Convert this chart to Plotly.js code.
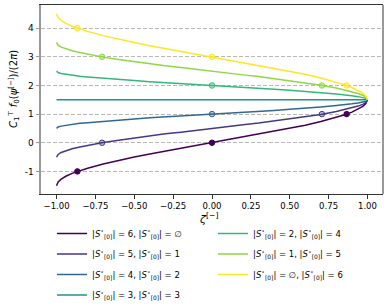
<!DOCTYPE html>
<html>
<head>
<meta charset="utf-8">
<script src="https://cdn.plot.ly/plotly-3.0.1.min.js"></script>
<style>html,body{margin:0;padding:0;background:#fff;}#chart{width:389px;height:307px;}</style>
</head>
<body>
<div id="chart"></div>
<script>
// zeta samples (x values)
const zeta = [-1, -0.99, -0.97, -0.94, -0.9, -0.85, -0.8, -0.7, -0.6, -0.5, -0.4, -0.3, -0.2, -0.1, 0,
  0.1, 0.2, 0.3, 0.4, 0.5, 0.6, 0.7, 0.8, 0.85, 0.9, 0.94, 0.97, 0.99, 1];

// curve values, keyed by |S*|
const y6 = [-1.50, -1.37, -1.27, -1.17, -1.07, -0.97, -0.89, -0.74, -0.61, -0.50, -0.39, -0.29, -0.19, -0.10, 0.00,
  0.10, 0.19, 0.29, 0.39, 0.50, 0.61, 0.74, 0.89, 0.97, 1.07, 1.17, 1.27, 1.37, 1.50];
const y5 = [-0.50, -0.41, -0.34, -0.28, -0.21, -0.15, -0.09, 0.01, 0.09, 0.17, 0.24, 0.31, 0.37, 0.44, 0.50,
  0.56, 0.63, 0.69, 0.76, 0.83, 0.91, 0.99, 1.09, 1.15, 1.21, 1.28, 1.34, 1.41, 1.50];
const y4 = [0.50, 0.55, 0.58, 0.61, 0.64, 0.68, 0.70, 0.75, 0.80, 0.83, 0.87, 0.90, 0.94, 0.97, 1.00,
  1.03, 1.06, 1.10, 1.13, 1.17, 1.20, 1.25, 1.30, 1.32, 1.36, 1.39, 1.42, 1.45, 1.50];
const y3 = [1.5, 1.5, 1.5, 1.5, 1.5, 1.5, 1.5, 1.5, 1.5, 1.5, 1.5, 1.5, 1.5, 1.5, 1.5,
  1.5, 1.5, 1.5, 1.5, 1.5, 1.5, 1.5, 1.5, 1.5, 1.5, 1.5, 1.5, 1.5, 1.5];
const y2 = [2.50, 2.45, 2.42, 2.39, 2.36, 2.32, 2.30, 2.25, 2.20, 2.17, 2.13, 2.10, 2.06, 2.03, 2.00,
  1.97, 1.94, 1.90, 1.87, 1.83, 1.80, 1.75, 1.70, 1.68, 1.64, 1.61, 1.58, 1.55, 1.50];
const y1 = [3.50, 3.41, 3.34, 3.28, 3.21, 3.15, 3.09, 2.99, 2.91, 2.83, 2.76, 2.69, 2.63, 2.56, 2.50,
  2.44, 2.37, 2.31, 2.24, 2.17, 2.09, 2.01, 1.91, 1.85, 1.79, 1.72, 1.66, 1.59, 1.50];
const y0 = [4.50, 4.37, 4.27, 4.17, 4.07, 3.97, 3.89, 3.74, 3.61, 3.50, 3.39, 3.29, 3.19, 3.10, 3.00,
  2.90, 2.81, 2.71, 2.61, 2.50, 2.39, 2.26, 2.11, 2.03, 1.93, 1.83, 1.73, 1.63, 1.50];

// integer crossing markers
const mx6 = [-0.866, 0, 0.866], my6 = [-1, 0, 1];
const mx5 = [-0.707, 0.707], my5 = [0, 1];
const mx4 = [0], my4 = [1];
const mx2 = [0], my2 = [2];
const mx1 = [-0.707, 0.707], my1 = [3, 2];
const mx0 = [-0.866, 0, 0.866], my0 = [4, 3, 2];

const labels = [
  "|<i>S</i><sup>⋆</sup><sub>[0]</sub>| = 6, |<i>S</i><sup>∘</sup><sub>[0]</sub>| = ∅",
  "|<i>S</i><sup>⋆</sup><sub>[0]</sub>| = 5, |<i>S</i><sup>∘</sup><sub>[0]</sub>| = 1",
  "|<i>S</i><sup>⋆</sup><sub>[0]</sub>| = 4, |<i>S</i><sup>∘</sup><sub>[0]</sub>| = 2",
  "|<i>S</i><sup>⋆</sup><sub>[0]</sub>| = 3, |<i>S</i><sup>∘</sup><sub>[0]</sub>| = 3",
  "|<i>S</i><sup>⋆</sup><sub>[0]</sub>| = 2, |<i>S</i><sup>∘</sup><sub>[0]</sub>| = 4",
  "|<i>S</i><sup>⋆</sup><sub>[0]</sub>| = 1, |<i>S</i><sup>∘</sup><sub>[0]</sub>| = 5",
  "|<i>S</i><sup>⋆</sup><sub>[0]</sub>| = ∅, |<i>S</i><sup>∘</sup><sub>[0]</sub>| = 6"
];
const yTitle = '<i>C</i><sub>1</sub><sup>⊤</sup> <i>f</i><sub>0</sub>(<i>ψ</i><sup>[−]</sup>)/(2<i>π</i>)';
const xTitle = '<i>ζ</i><sup>[−]</sup>';

const colors = ['#440154', '#443983', '#31688e', '#21918c', '#35b779', '#90d743', '#fde725'];
const fills = ['#440154', 'rgba(68,57,131,0.35)', 'rgba(49,104,142,0.35)', 'rgba(33,145,140,0.35)',
  'rgba(53,183,121,0.35)', 'rgba(144,215,67,0.45)', 'rgba(253,231,37,0.45)'];

const curves = [y6, y5, y4, y3, y2, y1, y0];
const marks = [[mx6, my6], [mx5, my5], [mx4, my4], null, [mx2, my2], [mx1, my1], [mx0, my0]];

const traces = [];
curves.forEach((yy, i) => {
  traces.push({
    x: zeta, y: yy, type: 'scatter', mode: 'lines', name: labels[i],
    line: {color: colors[i], width: 1.5},
    legend: i < 4 ? 'legend' : 'legend2', legendgroup: 'g' + i
  });
});
marks.forEach((m, i) => {
  if (!m) return;
  traces.push({
    x: m[0], y: m[1], type: 'scatter', mode: 'markers', showlegend: false,
    marker: {size: 5.5, color: fills[i], line: {color: colors[i], width: 1}}
  });
});

const legendCommon = {
  xref: 'container', yref: 'container', xanchor: 'left', yanchor: 'top',
  font: {family: 'DejaVu Sans', size: 8.5, color: '#000'},
  bgcolor: 'rgba(0,0,0,0)', tracegroupgap: 1.5, itemwidth: 30, orientation: 'v'
};

const layout = {
  width: 389, height: 307,
  margin: {l: 41, r: 6, t: 5, b: 113, autoexpand: false},
  paper_bgcolor: '#fff', plot_bgcolor: '#fff',
  font: {family: 'DejaVu Sans', size: 8.5, color: '#000'},
  xaxis: {
    range: [-1.1, 1.1], automargin: false,
    tickvals: [-1, -0.75, -0.5, -0.25, 0, 0.25, 0.5, 0.75, 1],
    ticktext: ['−1.00', '−0.75', '−0.50', '−0.25', '0.00', '0.25', '0.50', '0.75', '1.00'],
    ticks: 'outside', ticklen: 3.5, tickcolor: '#333', tickwidth: 1,
    showline: true, linecolor: '#333', linewidth: 1, mirror: true,
    showgrid: false, zeroline: false,
    tickfont: {family: 'DejaVu Sans', size: 8.5}
  },
  yaxis: {
    range: [-1.79, 4.81], automargin: false,
    tickvals: [-1, 0, 1, 2, 3, 4],
    ticktext: ['-1', '0', '1', '2', '3', '4'],
    ticks: 'outside', ticklen: 3.5, tickcolor: '#999', tickwidth: 1,
    showline: true, linecolor: '#999', linewidth: 2, mirror: false,
    showgrid: true, gridcolor: '#b8b8b8', griddash: '4px,2px', gridwidth: 1,
    zeroline: false,
    tickfont: {family: 'DejaVu Sans', size: 9}
  },
  annotations: [
    {text: yTitle, xref: 'paper', yref: 'paper', x: (14 - 41) / 342, y: (194 - 89) / 189,
      xanchor: 'center', yanchor: 'middle', textangle: -90, showarrow: false,
      font: {family: 'DejaVu Sans', size: 10, color: '#000'}},
    {text: xTitle, xref: 'paper', yref: 'paper', x: (208 - 41) / 342, y: -(218 - 194) / 189,
      xanchor: 'center', yanchor: 'middle', showarrow: false,
      font: {family: 'DejaVu Sans', size: 11, color: '#000'}}
  ],
  shapes: [
    {type: 'line', xref: 'paper', yref: 'paper', x0: 1, x1: 1, y0: 0, y1: 1, line: {color: '#333', width: 1}}
  ],
  legend: Object.assign({}, legendCommon, {x: 52 / 389, y: (307 - 219) / 307}),
  legend2: Object.assign({}, legendCommon, {x: 213 / 389, y: (307 - 219) / 307}),
  showlegend: true
};

Plotly.newPlot('chart', traces, layout, {displayModeBar: false, staticPlot: true});
</script>
</body>
</html>
